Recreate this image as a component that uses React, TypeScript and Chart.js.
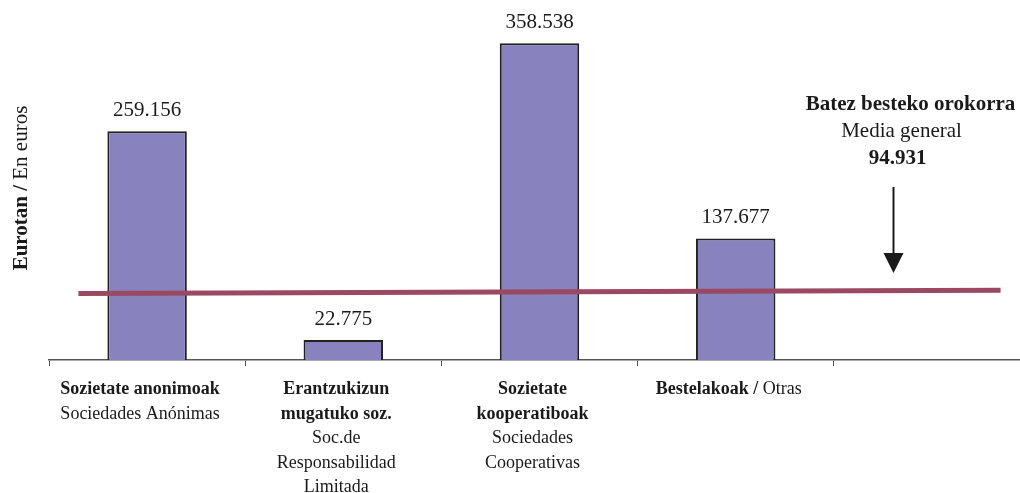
import { useEffect, useRef } from "react";
import { Chart, registerables } from "chart.js";

Chart.register(...registerables);

// ---- data ----
const categories = ["Sozietate anonimoak", "Erantzukizun mugatuko soz.", "Sozietate kooperatiboak", "Bestelakoak", ""];
const categoryLabelLines: string[][] = [
  ["**Sozietate anonimoak**", "Sociedades Anónimas"],
  ["**Erantzukizun**", "**mugatuko soz.**", "Soc.de", "Responsabilidad", "Limitada"],
  ["**Sozietate**", "**kooperatiboak**", "Sociedades", "Cooperativas"],
  ["**Bestelakoak /** Otras"],
  [],
];
const amounts: (number | null)[] = [259156, 22775, 358538, 137677, null];
const averageValue = 94931;
const averageLineX = [0.15, 4.85];
const averageLineY = [75400, 78900];
const averageArrowX = 4.3;
const axisTitle = "**Eurotan /** En euros";
const annotationLines = ["**Batez besteko orokorra**", "Media general", `**${fmt(averageValue)}**`];

function fmt(n: number) {
  return String(n).replace(/\B(?=(\d{3})+(?!\d))/g, ".");
}

const FONT = '"Liberation Serif", "Times New Roman", serif';

function parseRich(line: string) {
  const parts = line.split("**");
  const segs: { text: string; bold: boolean }[] = [];
  parts.forEach((p, i) => {
    if (p) segs.push({ text: p, bold: i % 2 === 1 });
  });
  return segs;
}

function richWidth(ctx: CanvasRenderingContext2D, line: string, size: number) {
  let total = 0;
  for (const s of parseRich(line)) {
    ctx.font = `${s.bold ? "bold " : ""}${size}px ${FONT}`;
    total += ctx.measureText(s.text).width;
  }
  return total;
}

function drawRich(ctx: CanvasRenderingContext2D, line: string, x: number, y: number, size: number, align: "center" | "left") {
  const total = richWidth(ctx, line, size);
  let cx = align === "center" ? x - total / 2 : x;
  ctx.textAlign = "left";
  for (const s of parseRich(line)) {
    ctx.font = `${s.bold ? "bold " : ""}${size}px ${FONT}`;
    ctx.fillText(s.text, cx, y);
    cx += ctx.measureText(s.text).width;
  }
}

const textPlugin = {
  id: "textPlugin",
  afterDraw(chart: any) {
    const ctx: CanvasRenderingContext2D = chart.ctx;
    const xs = chart.scales.x;
    const xl = chart.scales.xl;
    ctx.save();
    ctx.fillStyle = "#1a1a1a";
    ctx.textBaseline = "alphabetic";

    // value labels
    const meta = chart.getDatasetMeta(0);
    meta.data.forEach((el: any, i: number) => {
      const v = amounts[i];
      if (v == null) return;
      ctx.font = `21px ${FONT}`;
      ctx.textAlign = "center";
      ctx.fillText(fmt(v), el.x, el.y - 15);
    });

    // category labels
    categoryLabelLines.forEach((lines, i) => {
      const cx = xs.getPixelForValue(i) - 7;
      lines.forEach((ln, j) => {
        drawRich(ctx, ln, cx, 394 + j * 24.5, 18, "center");
      });
    });

    // y-axis title (rotated)
    ctx.save();
    const tw = richWidth(ctx, axisTitle, 21);
    ctx.translate(27, 188 + tw / 2);
    ctx.rotate(-Math.PI / 2);
    drawRich(ctx, axisTitle, 0, 0, 21, "left");
    ctx.restore();

    // annotation with arrow
    const ax = Math.round(xl.getPixelForValue(averageArrowX)) + 0.5;
    const offsets = [17, 8, 4];
    annotationLines.forEach((ln, j) => {
      drawRich(ctx, ln, ax + offsets[j], 110 + j * 27, 21, "center");
    });
    ctx.strokeStyle = "#1a1a1a";
    ctx.lineWidth = 2;
    ctx.beginPath();
    ctx.moveTo(ax, 187);
    ctx.lineTo(ax, 256);
    ctx.stroke();
    ctx.beginPath();
    ctx.moveTo(ax - 10, 253);
    ctx.lineTo(ax + 10, 253);
    ctx.lineTo(ax, 273);
    ctx.closePath();
    ctx.fill();

    ctx.restore();
  },
};

export default function App() {
  const ref = useRef<HTMLCanvasElement>(null);
  useEffect(() => {
    if (!ref.current) return;
    const chart = new Chart(ref.current, {
      type: "bar",
      data: {
        labels: categories,
        datasets: [
          {
            type: "bar",
            data: amounts,
            backgroundColor: "#8883BE",
            borderColor: "#222222",
            borderWidth: 2,
            grouped: false,
            barPercentage: 0.405,
            categoryPercentage: 1,
            order: 1,
          } as any,
          {
            type: "line",
            xAxisID: "xl",
            data: averageLineX.map((x, i) => ({ x, y: averageLineY[i] })),
            borderColor: "#9B4862",
            borderWidth: 5,
            borderCapStyle: "butt",
            pointRadius: 0,
            fill: false,
            order: 0,
          } as any,
        ],
      },
      options: {
        animation: false,
        responsive: true,
        maintainAspectRatio: false,
        layout: { padding: { left: 49, right: 0, top: 20, bottom: 127 } },
        plugins: { legend: { display: false }, tooltip: { enabled: false } },
        scales: {
          x: {
            type: "category",
            offset: true,
            ticks: { display: false },
            grid: { display: true, drawOnChartArea: false, drawTicks: true, tickLength: 6, color: "#555", offset: true },
            border: { display: true, color: "#555", width: 1.5 },
          },
          xl: { type: "linear", display: false, offset: false, grid: { offset: false }, min: 0, max: 5 },
          y: { display: false, min: 0, max: 385000 },
        },
      } as any,
      plugins: [textPlugin],
    });
    return () => chart.destroy();
  }, []);
  return (
    <div style={{ position: "fixed", left: 0, top: 0, width: 1020, height: 493, overflow: "hidden", background: "#fff" }}>
      <div style={{ position: "relative", width: 1030, height: 493 }}>
        <canvas ref={ref} />
      </div>
    </div>
  );
}
